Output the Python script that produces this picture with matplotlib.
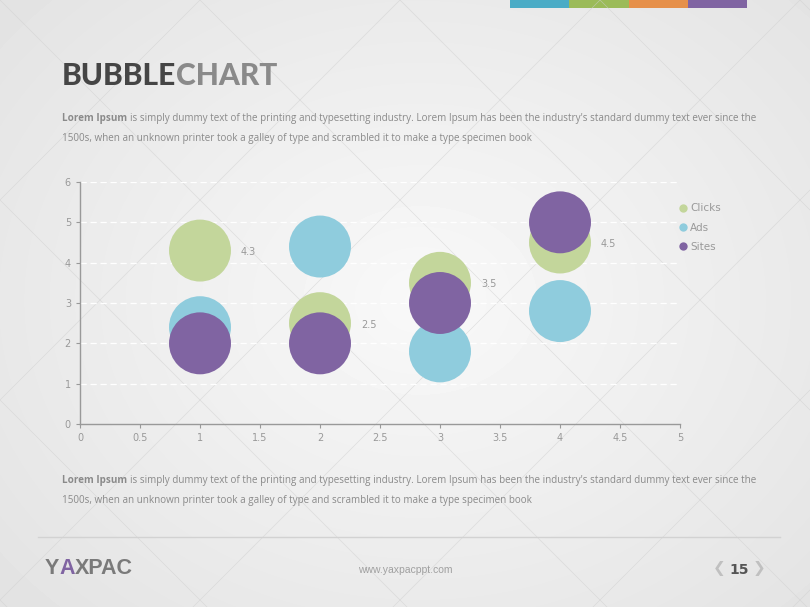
import numpy as np
import matplotlib.pyplot as plt
from matplotlib.lines import Line2D

# data
series = ["Clicks", "Ads", "Sites"]
x_vals = [1, 2, 3, 4]
clicks = [4.3, 2.5, 3.5, 4.5]
ads = [2.4, 4.4, 1.8, 2.8]
sites = [2, 2, 3, 5]
colors = ["#c3d69b", "#8fccdd", "#8064a2"]
bar_colors = ["#4bacc6", "#9bbb59", "#e6904a", "#8064a2"]

x_ticks = [0, 0.5, 1, 1.5, 2, 2.5, 3, 3.5, 4, 4.5, 5]
y_ticks = [0, 1, 2, 3, 4, 5, 6]

para1 = "is simply dummy text of the printing and typesetting industry. Lorem Ipsum has been the industry's standard dummy text ever since the"
para2 = "1500s, when an unknown printer took a galley of type and scrambled it to make a type specimen book"

W, H = 810, 607
fig = plt.figure(figsize=(W / 100, H / 100), dpi=100)

# background gradient + faint diagonal pattern
bg = fig.add_axes([0, 0, 1, 1])
yy, xx = np.mgrid[0:H, 0:W]
r = np.sqrt(((xx - 420) / 520.0) ** 2 + ((yy - 300) / 420.0) ** 2)
img = 0.975 - 0.08 * np.clip(r, 0, 1.3)
bg.imshow(img, cmap="gray", vmin=0, vmax=1, extent=[0, W, H, 0], aspect="auto")
for c in range(-800, 1700, 200):
    bg.plot([c, c + H], [0, H], color="#d0d0d0", lw=0.5, alpha=0.6)
    bg.plot([c, c - H], [0, H], color="#d0d0d0", lw=0.5, alpha=0.6)
bg.set_xlim(0, W)
bg.set_ylim(H, 0)
bg.axis("off")

# top colour bar
for i, c in enumerate(bar_colors):
    bg.add_patch(plt.Rectangle((510 + i * 59.25, 0), 59.25, 8, color=c, lw=0))

# footer line
bg.plot([38, 780], [537, 537], color="#d2d2d2", lw=1)

renderer = fig.canvas.get_renderer()

# title
t1 = fig.text(62 / W, 1 - 76 / H, "BUBBLE", fontsize=21.5, fontweight="black",
              color="#454545", family="Lato", va="center")
bb = t1.get_window_extent(renderer)
fig.text(bb.x1 / W, 1 - 76 / H, "CHART", fontsize=21.5, fontweight="black",
         color="#8a8a8a", family="Lato", va="center")


def paragraph(y1, y2):
    b = fig.text(62 / W, 1 - y1 / H, "Lorem Ipsum", fontsize=7.1, fontweight="bold",
                 color="#8a8a8a", family="Open Sans", va="center")
    e = b.get_window_extent(renderer)
    fig.text((e.x1 + 3) / W, 1 - y1 / H, para1, fontsize=7.1, color="#8a8a8a",
             family="Open Sans", va="center")
    fig.text(62 / W, 1 - y2 / H, para2, fontsize=7.1, color="#8a8a8a",
             family="Open Sans", va="center")


paragraph(119, 138)
paragraph(481, 500)

# footer logo, purple "A"
logo_kw = dict(fontsize=15.5, fontweight="bold", family="Liberation Sans", va="center")
px = 45
for part, col in [("Y", "#7a7a7a"), ("A", "#8064a2"), ("XPAC", "#7a7a7a")]:
    t = fig.text(px / W, 1 - 568 / H, part, color=col, **logo_kw)
    px = t.get_window_extent(renderer).x1

fig.text(405 / W, 1 - 570 / H, "www.yaxpacppt.com", fontsize=7.5, color="#a0a0a0",
         family="Liberation Sans", ha="center", va="center")
fig.text(739 / W, 1 - 570 / H, "15", fontsize=10, fontweight="bold", color="#555555",
         family="Liberation Sans Narrow", ha="center", va="center")
fig.text(719 / W, 1 - 569 / H, "❮", fontsize=11, color="#c0c0c0",
         family="DejaVu Sans", ha="center", va="center")
fig.text(759 / W, 1 - 569 / H, "❯", fontsize=11, color="#c0c0c0",
         family="DejaVu Sans", ha="center", va="center")

# chart
ax = fig.add_axes([80 / W, 1 - 424 / H, 600 / W, 242 / H])
ax.set_facecolor("none")
size = 1990
for name, vals, col in zip(series, [clicks, ads, sites], colors):
    ax.scatter(x_vals, vals, s=size, color=col, edgecolors="none", label=name, zorder=3)

for x, v in zip(x_vals, clicks):
    ax.annotate(f"{v}", (x, v), xytext=(29.5, -1), textcoords="offset points",
                fontsize=7, color="#999999", ha="left", va="center", zorder=4)

ax.set_xlim(0, 5)
ax.set_ylim(0, 6)
ax.set_xticks(x_ticks)
ax.set_xticklabels([f"{t:g}" for t in x_ticks])
ax.set_yticks(y_ticks)
ax.tick_params(colors="#999999", labelsize=7, length=3, width=0.8, labelcolor="#999999")
for s in ["top", "right"]:
    ax.spines[s].set_visible(False)
for s in ["left", "bottom"]:
    ax.spines[s].set_color("#999999")
    ax.spines[s].set_linewidth(1)
for yv in y_ticks[1:]:
    ax.axhline(yv, color="white", lw=0.9, ls=(0, (5, 3)), zorder=1)

leg_handles = [Line2D([], [], marker="o", ls="", markersize=6, markerfacecolor=c,
                      markeredgecolor="none") for c in colors]
fig.legend(leg_handles, series, loc="upper left", bbox_to_anchor=(675 / W, 1 - 198 / H),
           frameon=False, fontsize=7.5, labelcolor="#999999", handlelength=0.6,
           handletextpad=0.35, labelspacing=0.9, borderpad=0)

fig.savefig("out.png", dpi=100)
